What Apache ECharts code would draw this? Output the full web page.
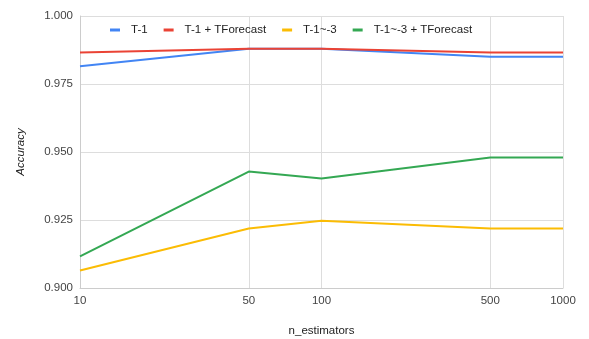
<!DOCTYPE html>
<html>
<head>
<meta charset="utf-8">
<script src="https://cdn.jsdelivr.net/npm/echarts@6/dist/echarts.min.js"></script>
<style>
  html, body { margin: 0; padding: 0; background: #fff; }
  #chart { width: 589px; height: 339px; }
</style>
</head>
<body>
<div id="chart"></div>
<script>
// n_estimators settings tested
const estimators = [10, 50, 100, 500, 1000];
const yTicks = [0.900, 0.925, 0.950, 0.975, 1.000];

// Accuracy per feature set
const t1 = [0.9815, 0.988, 0.988, 0.985, 0.985];
const t1Forecast = [0.9866, 0.988, 0.988, 0.9866, 0.9866];
const t13 = [0.9064, 0.9219, 0.9247, 0.9219, 0.9219];
const t13Forecast = [0.9116, 0.9428, 0.9403, 0.948, 0.948];

const seriesNames = ['T-1', 'T-1 + TForecast', 'T-1~-3', 'T-1~-3 + TForecast'];
const seriesColors = ['#4285f4', '#ea4335', '#fbbc04', '#34a853'];
const seriesValues = [t1, t1Forecast, t13, t13Forecast];

const chart = echarts.init(document.getElementById('chart'));
const font = 'Arial, "Liberation Sans", sans-serif';

chart.setOption({
  animation: false,
  backgroundColor: '#fff',
  textStyle: { fontFamily: font },
  grid: {
    left: 80, right: 26, top: 16, bottom: 51,
    containLabel: false,
    outerBoundsMode: 'none'
  },
  legend: {
    top: 19,
    left: 105,
    itemWidth: 10,
    itemHeight: 3,
    itemGap: 16,
    icon: 'rect',
    textStyle: { fontFamily: font, fontSize: 11.5, color: '#222', padding: [0, 0, 0, 6] },
    data: seriesNames
  },
  xAxis: {
    type: 'log',
    logBase: 10,
    min: 10,
    max: 1000,
    name: 'n_estimators',
    nameLocation: 'middle',
    nameGap: 37,
    nameTextStyle: { fontFamily: font, fontSize: 11.5, color: '#222' },
    axisLine: { show: true, lineStyle: { color: '#ccc', width: 1 } },
    axisTick: { show: false, customValues: estimators },
    axisLabel: {
      customValues: estimators,
      fontFamily: font, fontSize: 11.5, color: '#444', margin: 7,
      formatter: v => String(Math.round(v))
    },
    splitLine: { show: true, lineStyle: { color: '#ddd', width: 1 } }
  },
  yAxis: {
    type: 'value',
    min: 0.9,
    max: 1.0,
    interval: 0.025,
    name: 'Accuracy',
    nameLocation: 'middle',
    nameGap: 53,
    nameTextStyle: { fontFamily: font, fontSize: 11.5, color: '#222', fontStyle: 'italic' },
    axisLine: { show: true, lineStyle: { color: '#ccc', width: 1 } },
    axisTick: { show: false },
    axisLabel: {
      fontFamily: font, fontSize: 11.5, color: '#444', margin: 7,
      formatter: v => v.toFixed(3)
    },
    splitLine: { show: true, lineStyle: { color: '#ddd', width: 1 } }
  },
  series: seriesNames.map((name, i) => ({
    name,
    type: 'line',
    data: estimators.map((x, j) => [x, seriesValues[i][j]]),
    showSymbol: false,
    symbol: 'none',
    itemStyle: { color: seriesColors[i] },
    lineStyle: { color: seriesColors[i], width: 2 }
  }))
});
</script>
</body>
</html>
